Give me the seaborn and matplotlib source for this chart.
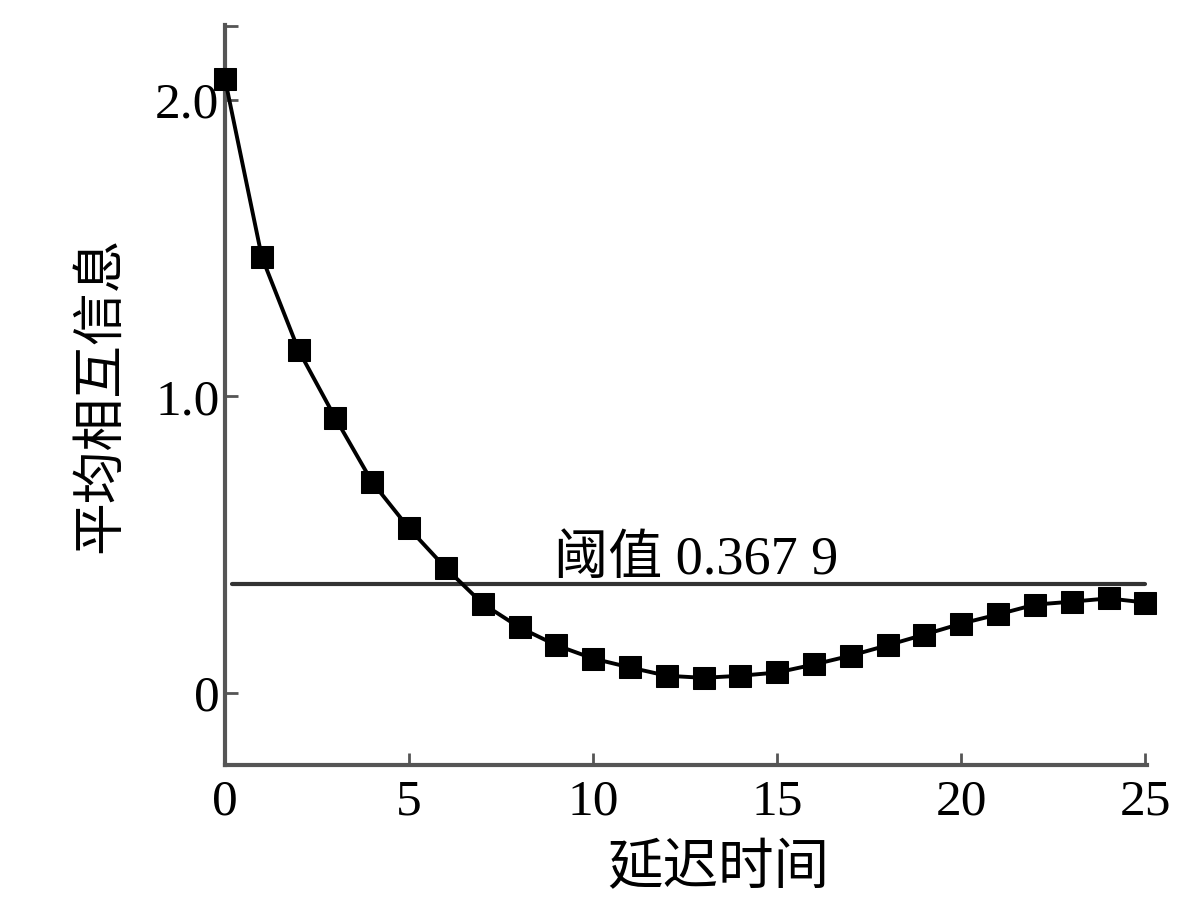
import matplotlib
matplotlib.use("Agg")
import matplotlib.pyplot as plt
import seaborn as sns
import pandas as pd

delay = list(range(26))
mi = [2.07, 1.47, 1.155, 0.926, 0.71, 0.554, 0.42, 0.30, 0.22, 0.16, 0.115, 0.085,
      0.057, 0.05, 0.057, 0.068, 0.095, 0.125, 0.16, 0.196, 0.233, 0.264, 0.297,
      0.307, 0.318, 0.304]
threshold = 0.3679
xticks = [0, 5, 10, 15, 20, 25]
yticks = [0, 1.0, 2.0]
ytick_labels = ["0", "1.0", "2.0"]
xlabel = "延迟时间"
ylabel = "平均相互信息"
thr_label = "阈值 0.367 9"

sns.set_style("white")
plt.rcParams['font.family'] = ['Liberation Serif', 'Noto Sans CJK SC']

df = pd.DataFrame({"delay": delay, "mi": mi})

fig = plt.figure(figsize=(12, 9.22), dpi=100)
ax = fig.add_axes([0.1875, 0.170, 0.7685, 0.803])

sns.lineplot(data=df, x="delay", y="mi", ax=ax, color="black", lw=2.8,
             marker="s", markersize=16, markeredgecolor="black",
             markerfacecolor="black", clip_on=False, zorder=5)
ax.plot([0.2, 25], [threshold, threshold], color="#333333", lw=3)
ax.text(8.95, 0.40, thr_label, fontsize=39, color="black",
        family=['Liberation Serif', 'Noto Sans CJK SC'])

ax.set_xlim(0, 25.05)
ax.set_ylim(-0.245, 2.253)
ax.set_xticks(xticks)
ax.set_yticks(yticks)
ax.set_yticks([2.25], minor=True)
ax.set_yticklabels(ytick_labels)
ax.tick_params(axis="both", which="both", direction="in", length=9, width=2,
               color="#555555", labelsize=37, pad=10, bottom=True, left=True,
               labelcolor="black")
ax.tick_params(axis="y", pad=4)
for s in ["top", "right"]:
    ax.spines[s].set_visible(False)
for s in ["left", "bottom"]:
    ax.spines[s].set_color("#555555")
    ax.spines[s].set_linewidth(3)

ax.set_xlabel(xlabel, fontsize=40, family=['Noto Sans CJK SC'], labelpad=6,
              color="black")
ax.xaxis.set_label_coords(0.535, -0.10)
ax.set_ylabel(ylabel, fontsize=38, family=['Noto Sans CJK SC'], labelpad=20,
              color="black")

fig.savefig("out.png", dpi=100, facecolor="white")
